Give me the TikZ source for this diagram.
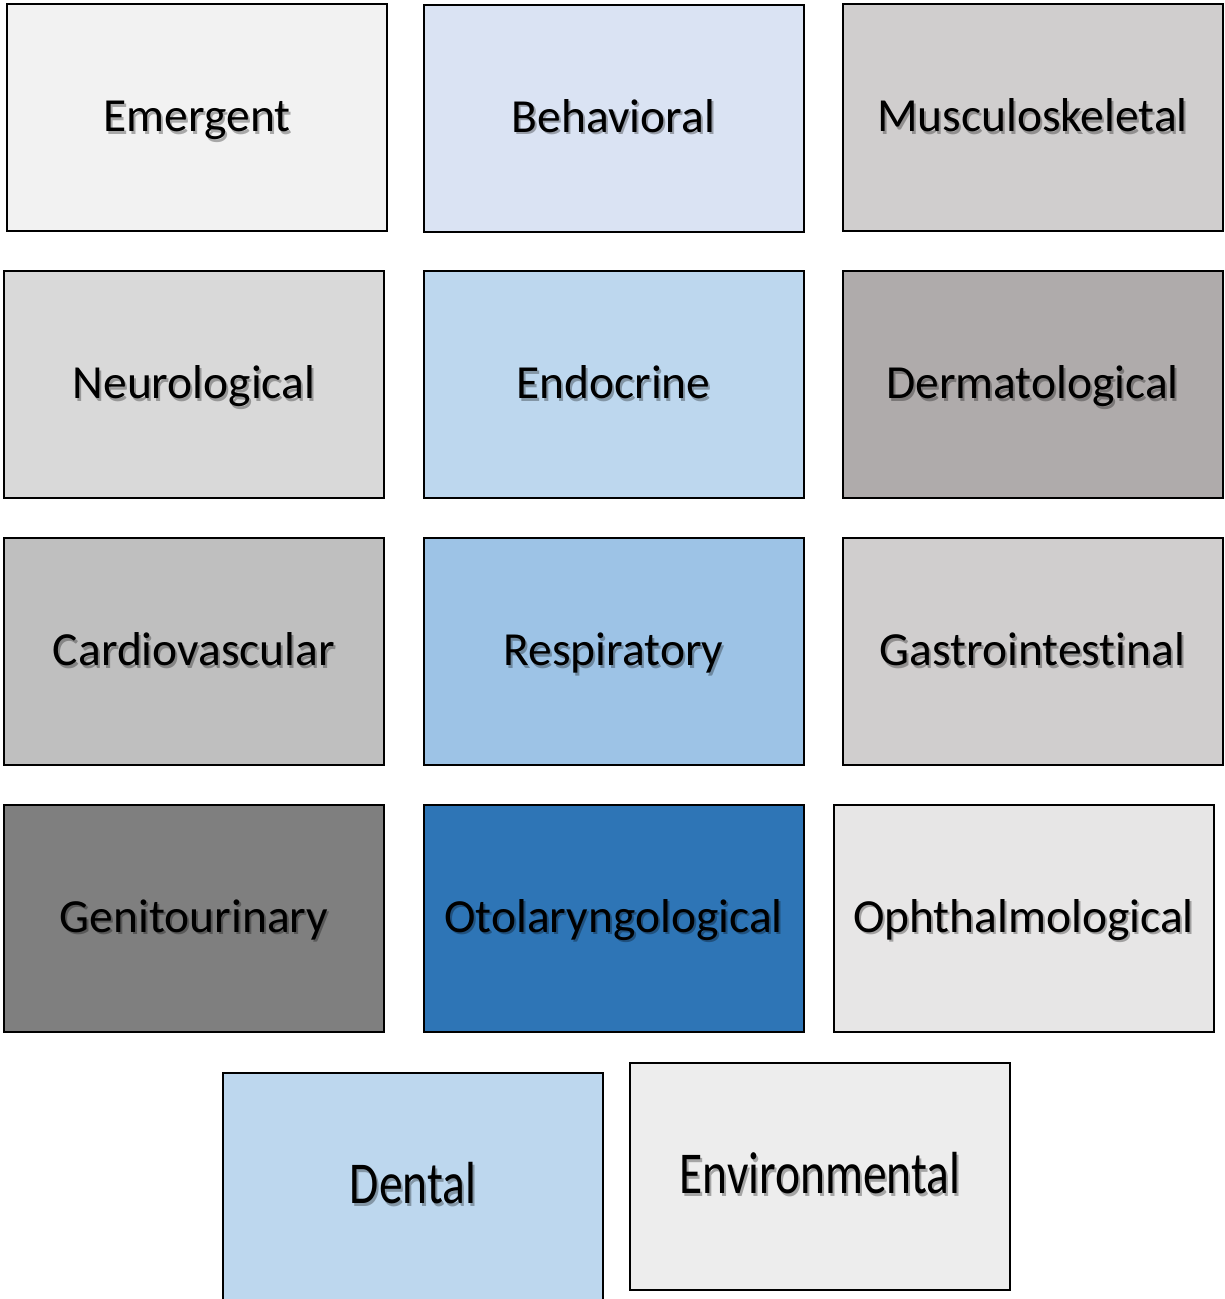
\documentclass[tikz,border=0pt]{standalone}
\usepackage{fontspec}
\setmainfont{Carlito}[Ligatures=NoCommon]
\usepackage{graphicx}
\definecolor{cEmer}{HTML}{F2F2F2}
\definecolor{cBeh}{HTML}{DAE3F3}
\definecolor{cMus}{HTML}{D0CECE}
\definecolor{cNeu}{HTML}{D9D9D9}
\definecolor{cEndo}{HTML}{BDD7EE}
\definecolor{cDerm}{HTML}{AFABAB}
\definecolor{cCard}{HTML}{BFBFBF}
\definecolor{cResp}{HTML}{9DC3E6}
\definecolor{cGast}{HTML}{D0CECE}
\definecolor{cGen}{HTML}{7F7F7F}
\definecolor{cOto}{HTML}{2E75B6}
\definecolor{cOph}{HTML}{E7E6E6}
\definecolor{cDen}{HTML}{BDD7EE}
\definecolor{cEnv}{HTML}{EDEDED}
\usetikzlibrary{calc}
\tikzset{
  catbox/.style={draw=black, line width=2pt, minimum width=380pt, minimum height=227pt, inner sep=0pt},
  cattext/.style={font=\fontsize{47.5}{56}\selectfont, text=black, text height=0.66em, text depth=0pt, inner sep=0pt},
  catshadow/.style={cattext, text=black, opacity=0.3}
}
\newcommand{\mycat}[6]{%
  \node[catbox, fill=#3] (#1) at (#2) {};
  \node[catshadow] at ([shift={(2pt,-2.2pt)}]$(#1.center)+(0,#6)$) {#4#5};
  \node[cattext] (#1t) at ($(#1.center)+(0,#6)$) {#4#5};
}
\begin{document}
\begin{tikzpicture}[x=1pt,y=1pt]
\useasboundingbox (0,0) rectangle (1225,-1299);
\clip (0,0) rectangle (1225,-1299);
\fill[white] (0,0) rectangle (1225,-1299);
\mycat{emer}{197,-117.5}{cEmer}{}{Emergent}{-11}
\mycat{beh}{613.5,-118}{cBeh}{}{Behavioral}{-11}
\mycat{mus}{1032.5,-117.5}{cMus}{}{Musculoskeletal}{-11}
\mycat{neu}{194,-384.5}{cNeu}{}{Neurological}{-11}
\mycat{endo}{613.5,-384.5}{cEndo}{}{Endocrine}{-11}
\mycat{derm}{1032.5,-384.5}{cDerm}{}{Dermatological}{-11}
\mycat{card}{194,-651.5}{cCard}{}{Cardiovascular}{-11}
\mycat{resp}{613.5,-651.5}{cResp}{}{Respiratory}{-11}
\mycat{gast}{1032.5,-651.5}{cGast}{}{Gastrointestinal}{-11}
\mycat{gen}{194,-918}{cGen}{}{Genitourinary}{-11}
\mycat{oto}{613.5,-918}{cOto}{}{Otolaryngological}{-11}
\mycat{oph}{1023.5,-918}{cOph}{}{Ophthalmological}{-11}
\mycat{den}{413,-1186.5}{cDen}{\scalebox{1}[1.25]}{{Dental}}{-14}
\mycat{env}{820,-1176.5}{cEnv}{\scalebox{1}[1.25]}{{Environmental}}{-14}
\end{tikzpicture}
\end{document}
